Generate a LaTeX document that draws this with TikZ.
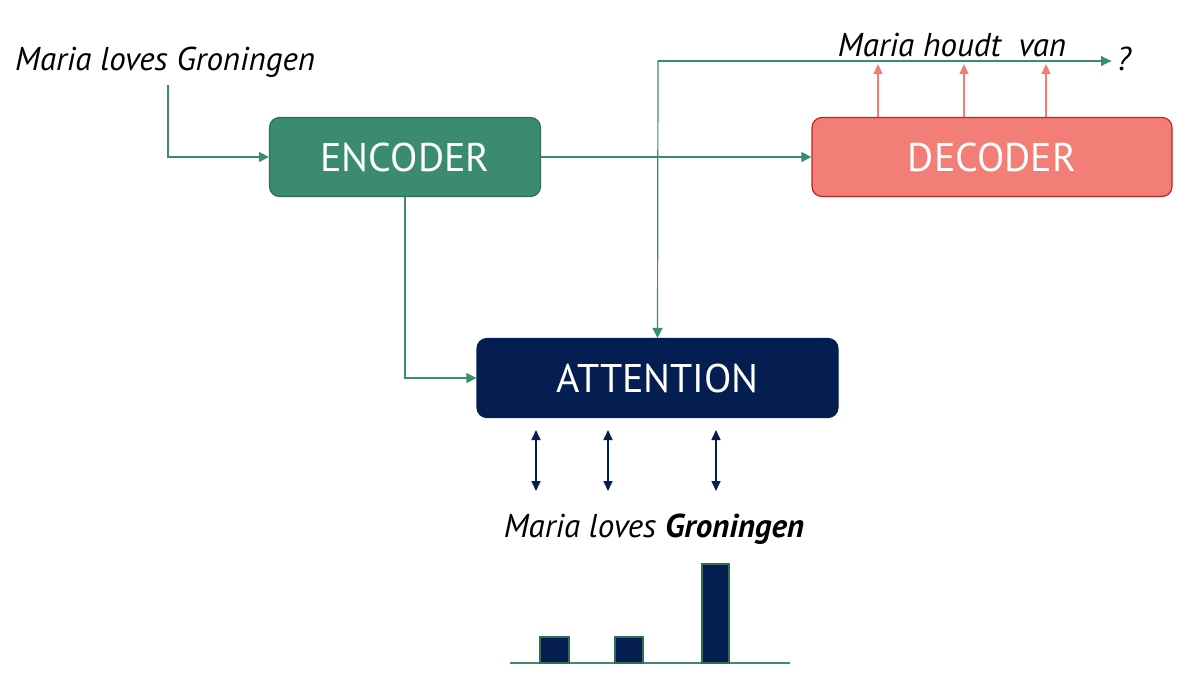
\documentclass[tikz,border=0pt]{standalone}
\usepackage{fontspec}
\setmainfont{PT Sans}
\usetikzlibrary{arrows.meta}
\definecolor{encgreen}{HTML}{3B8C6E}
\definecolor{encborder}{HTML}{2F7055}
\definecolor{navy}{HTML}{041E52}
\definecolor{salmon}{HTML}{F37E77}
\definecolor{decborder}{HTML}{B8261A}
\definecolor{linegreen}{HTML}{3B8C6E}
\definecolor{redline}{HTML}{F07E76}
\begin{document}
\begin{tikzpicture}[x=1pt,y=-1pt,
  box/.style={rounded corners=10pt, minimum width=#1, minimum height=79pt, text=white, font=\fontsize{40}{44}\selectfont, inner sep=0pt, line width=1.2pt},
  gline/.style={draw=linegreen, line width=1.2pt, -{Triangle[length=10pt,width=10pt]}},
  rline/.style={draw=redline, line width=1.2pt, -{Triangle[length=10pt,width=9pt]}, color=redline},
  nline/.style={draw=navy, line width=1.6pt, {Triangle[length=10pt,width=9pt]}-{Triangle[length=10pt,width=9pt]}},
  itx/.style={font=\fontsize{33}{36}\selectfont\itshape, inner sep=0pt},
  bar/.style={fill=navy, draw=encborder, line width=1.5pt}
]
\useasboundingbox (0,0) rectangle (1185,686);

\node[box=271pt, fill=encgreen, draw=encborder] (enc) at (405,157) {ENCODER};
\node[box=360pt, fill=salmon, draw=decborder] (dec) at (992,157) {DECODER};
\node[box=361pt, fill=navy, draw=navy] (att) at (657.5,378) {ATTENTION};

\node[itx, anchor=base west] (src) at (15,70) {Maria loves Groningen};
\node[itx, anchor=base] (tgt) at (952,56) {Maria houdt\ \ van};
\node[itx, anchor=base] (q) at (1124,70) {?};
\node[itx, anchor=base] (words) at (654,537) {Maria loves \textbf{Groningen}};

\coordinate (srcdown) at (168,85);
\draw[gline] (srcdown) |- (enc.west);
\draw[gline] (enc.east) -- (dec.west);
\draw[gline] (enc.south) |- (att.west);
\coordinate (topcorner) at (658,61);
\coordinate (qend) at (1111,61);
\draw[gline] (qend) -- (topcorner) -- (att.north);
\draw[gline] (topcorner) -- (qend);

\foreach \x/\n in {878/ra,964/rb,1046/rc}{
  \coordinate (\n a) at (\x,117);
  \coordinate (\n b) at (\x,64);
  \draw[rline] (\n a) -- (\n b);
}

\foreach \x/\n in {536/na,608/nb,716/nc}{
  \coordinate (\n a) at (\x,430);
  \coordinate (\n b) at (\x,491);
  \draw[nline] (\n a) -- (\n b);
}

\coordinate (axl) at (510,663);
\coordinate (axr) at (790,663);
\draw[draw=linegreen, line width=1.5pt] (axl) -- (axr);
\draw[bar] (540,663) rectangle (569,637);
\draw[bar] (615,663) rectangle (643,637);
\draw[bar] (702,663) rectangle (729,564);
\end{tikzpicture}
\end{document}
